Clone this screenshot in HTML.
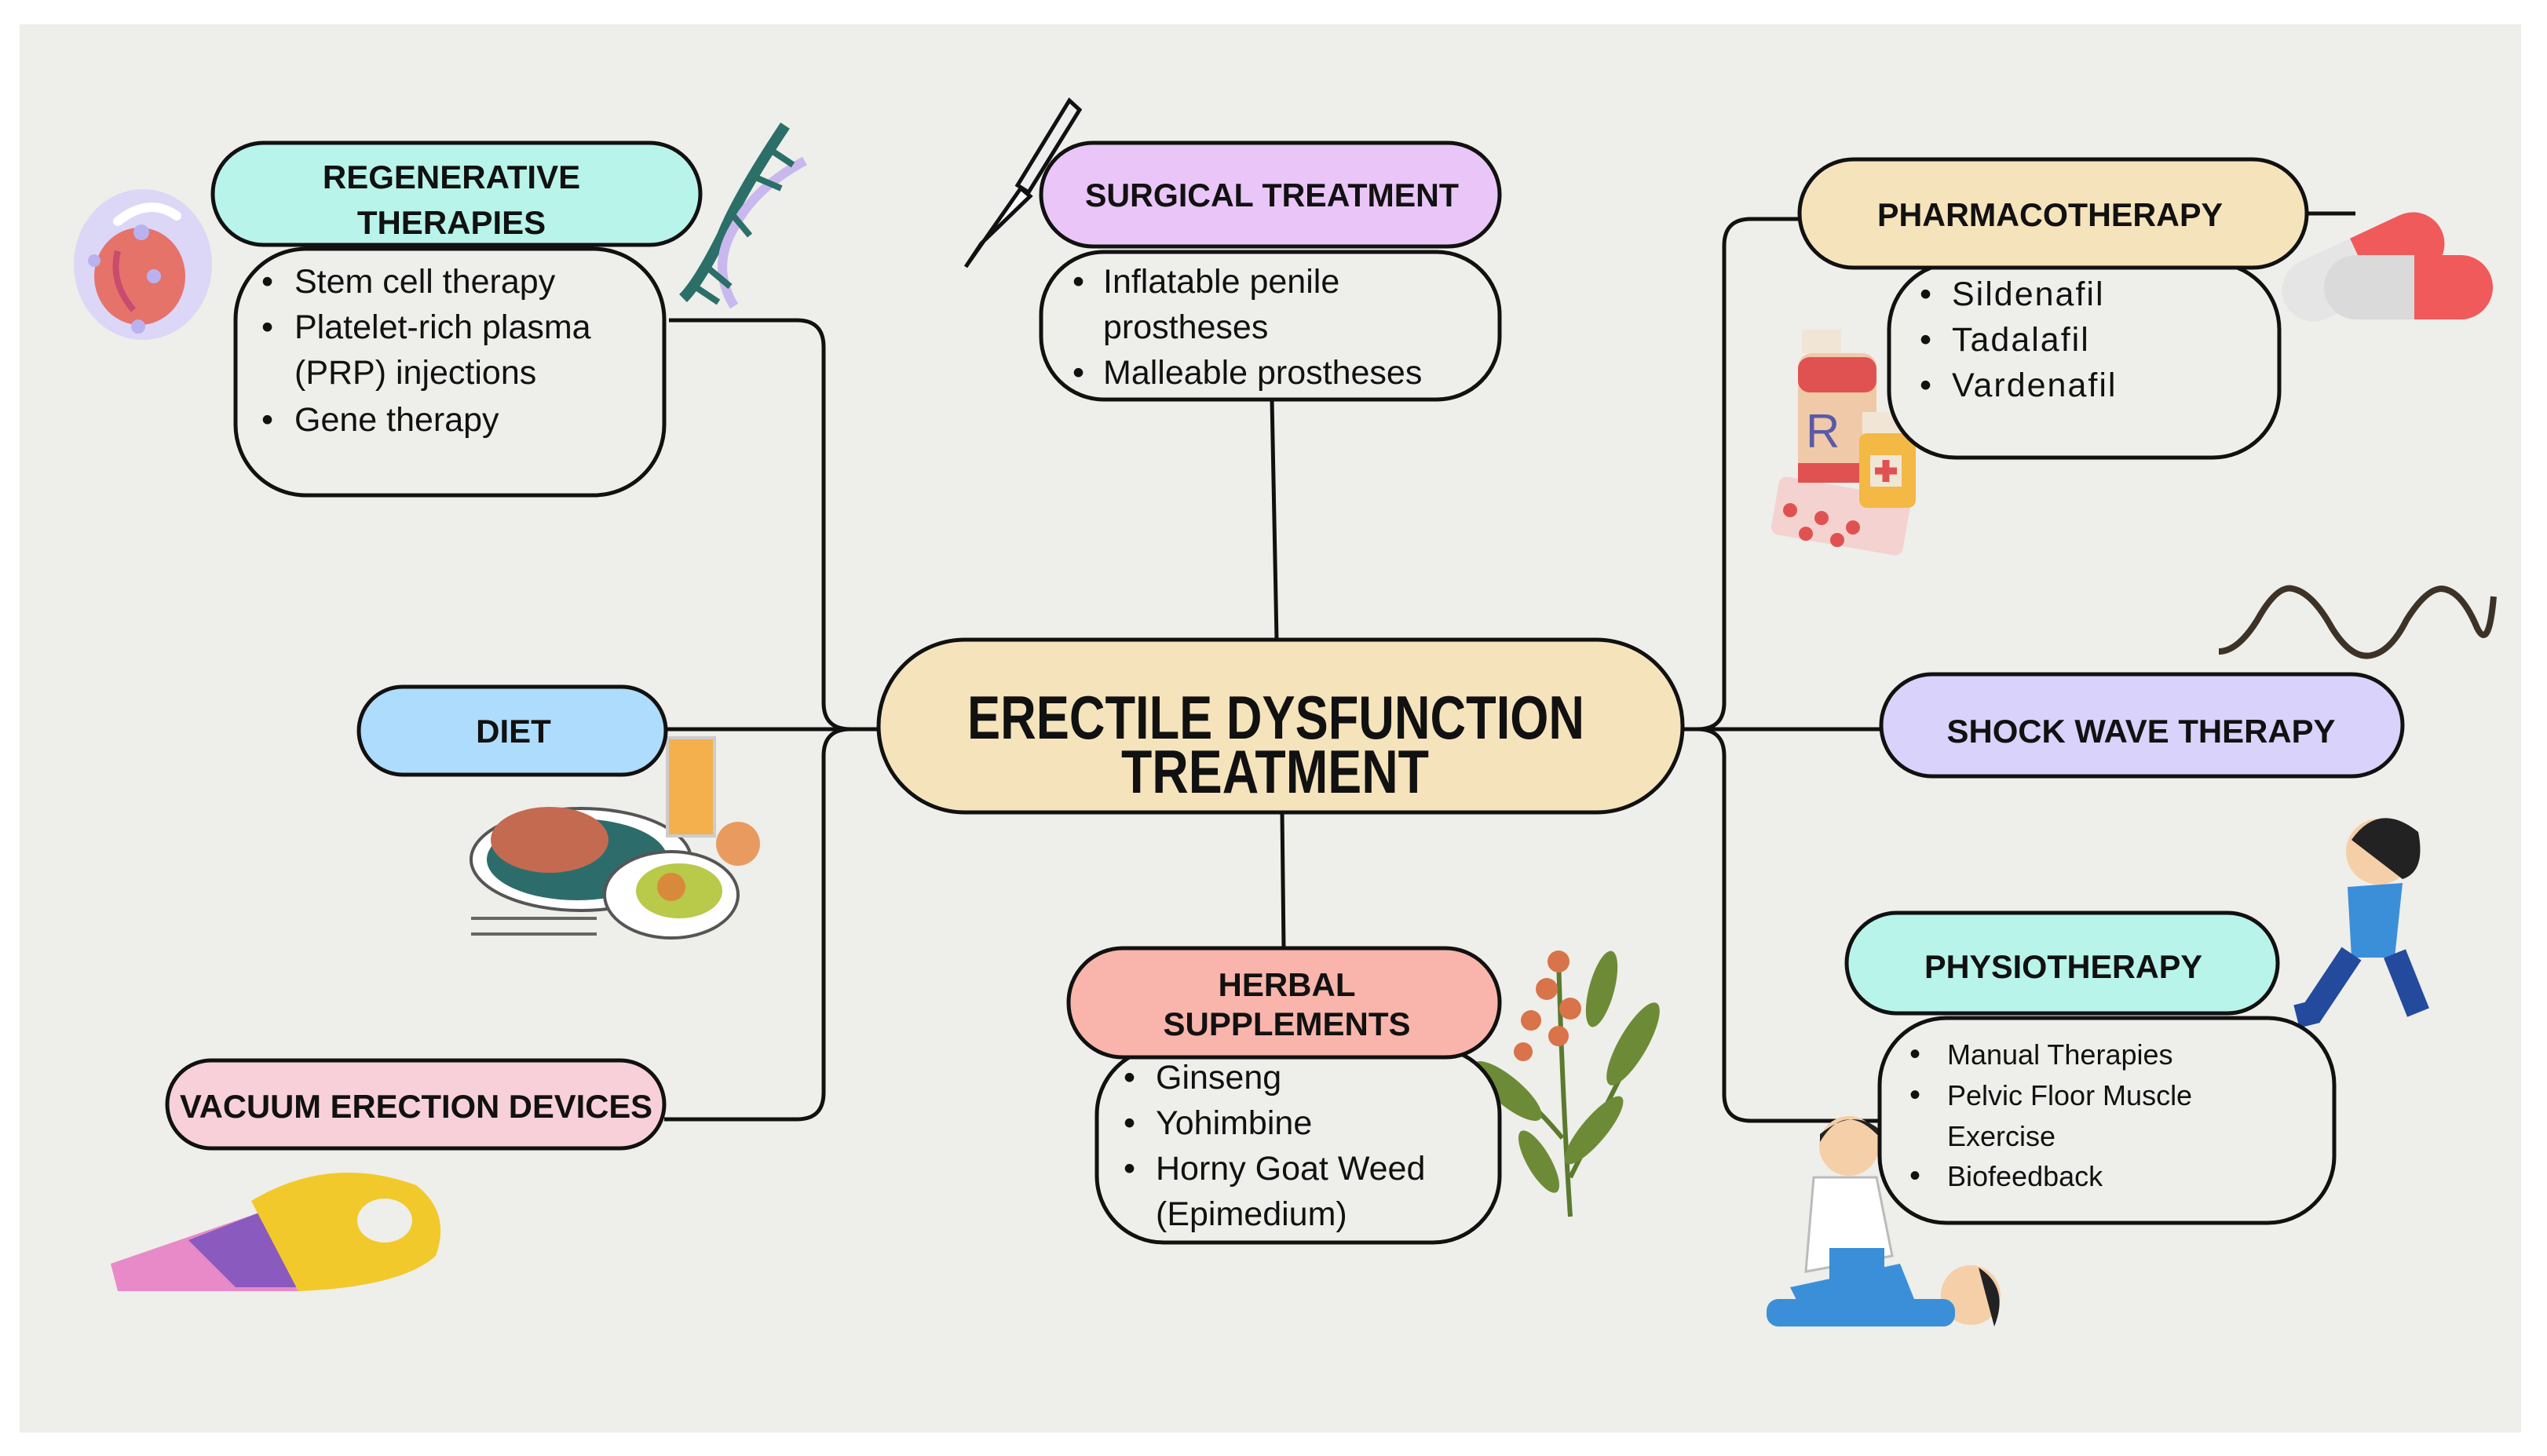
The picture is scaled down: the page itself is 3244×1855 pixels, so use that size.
<!DOCTYPE html>
<html><head><meta charset="utf-8"><style>
html,body{margin:0;padding:0;background:#fff;}
svg{display:block;}
text{font-family:"Liberation Sans",sans-serif;fill:#111;}
.h{font-weight:bold;font-size:42px;text-anchor:middle;}
.b{font-size:43px;}
</style></head><body>
<svg width="3244" height="1855" viewBox="0 0 3244 1855" xmlns="http://www.w3.org/2000/svg">
<rect x="0" y="0" width="3244" height="1855" fill="#fff"/>
<rect x="25" y="31" width="3186" height="1794" fill="#eeeeea"/>

<!-- connectors -->
<g fill="none" stroke="#111" stroke-width="5">
<path d="M852 408 H1015 Q1049 408 1049 442 V895 Q1049 929 1083 929 H1125"/>
<path d="M848 929 H1125"/>
<path d="M1125 929 H1083 Q1049 929 1049 963 V1392 Q1049 1426 1015 1426 H846"/>
<path d="M2292 279 H2230 Q2196 279 2196 313 V895 Q2196 929 2162 929 H2140"/>
<path d="M2140 929 H2396"/>
<path d="M2162 929 Q2196 929 2196 963 V1394 Q2196 1428 2230 1428 H2396"/>
<path d="M1620 509 L1626 815"/>
<path d="M1633 1035 L1635 1208"/>
<path d="M2938 272 H3000"/>
</g>

<!-- decorations -->
<!-- cell -->
<ellipse cx="182" cy="337" rx="88" ry="96" fill="#dcd6f7"/>
<ellipse cx="178" cy="352" rx="58" ry="62" fill="#e5736a"/>
<path d="M150 320 Q140 360 170 395" stroke="#c94b6e" stroke-width="8" fill="none"/>
<path d="M150 282 Q190 250 225 275" stroke="#fff" stroke-width="12" fill="none" stroke-linecap="round"/>
<circle cx="180" cy="296" r="10" fill="#b9b2ef"/><circle cx="196" cy="352" r="9" fill="#b9b2ef"/><circle cx="176" cy="416" r="9" fill="#b9b2ef"/><circle cx="120" cy="332" r="8" fill="#b9b2ef"/>
<!-- DNA -->
<path d="M1000 160 Q940 250 920 300 Q890 360 870 380" stroke="#2b6f68" stroke-width="14" fill="none"/>
<path d="M1025 205 Q960 240 935 290 Q905 340 935 390" stroke="#c9b8ee" stroke-width="12" fill="none"/>
<g stroke="#2b6f68" stroke-width="8"><line x1="980" y1="190" x2="1010" y2="210"/><line x1="960" y1="225" x2="995" y2="240"/><line x1="900" y1="340" x2="930" y2="365"/><line x1="885" y1="365" x2="915" y2="385"/><line x1="930" y1="270" x2="955" y2="300"/></g>
<!-- scalpel -->
<path d="M1362 128 L1375 140 L1310 245 L1296 236 Z" fill="#eee" stroke="#111" stroke-width="5"/>
<path d="M1300 240 L1230 340 L1250 310 L1312 250 Z" fill="#fff" stroke="#111" stroke-width="5"/>
<!-- pills -->
<g transform="rotate(-25 3010 340)"><rect x="2900" y="300" width="220" height="80" rx="40" fill="#e5e5e5"/><path d="M3010 300 H3080 A40 40 0 0 1 3080 380 H3010 Z" fill="#f05a5a"/></g>
<rect x="2960" y="325" width="215" height="82" rx="41" fill="#dadada"/><path d="M3075 325 H3134 A41 41 0 0 1 3134 407 H3075 Z" fill="#f05a5a"/>
<!-- bottles -->
<rect x="2260" y="620" width="170" height="75" rx="10" fill="#f4d2cf" transform="rotate(10 2345 655)"/>
<g fill="#e05252"><circle cx="2280" cy="650" r="9"/><circle cx="2320" cy="660" r="9"/><circle cx="2360" cy="672" r="9"/><circle cx="2300" cy="680" r="9"/><circle cx="2340" cy="688" r="9"/></g>
<rect x="2295" y="420" width="50" height="30" fill="#f1e6d6"/>
<rect x="2290" y="450" width="100" height="165" rx="18" fill="#f0c9a9"/>
<rect x="2290" y="455" width="100" height="45" rx="15" fill="#e05252"/><rect x="2290" y="590" width="100" height="25" fill="#e05252"/>
<text x="2300" y="570" style="font-size:60px;fill:#5a5aa8;">R</text>
<rect x="2372" y="525" width="62" height="30" fill="#f1e6d6"/><rect x="2368" y="552" width="72" height="95" rx="10" fill="#f4b844"/>
<rect x="2382" y="580" width="40" height="40" fill="#f1e6d6"/><path d="M2402 586 V614 M2388 600 H2416" stroke="#e05252" stroke-width="9"/>
<!-- sine -->
<path d="M2826 830 Q2850 830 2875 790 Q2900 745 2920 750 Q2945 755 2970 800 Q2995 840 3020 835 Q3045 830 3065 790 Q3090 750 3110 750 Q3135 752 3155 800 Q3170 830 3176 760" stroke="#3d3226" stroke-width="8" fill="none"/>
<!-- standing person -->
<circle cx="3030" cy="1085" r="42" fill="#f5cfa8"/><path d="M2995 1070 Q3030 1020 3080 1060 Q3090 1110 3060 1120 Z" fill="#222"/>
<path d="M2990 1130 L3060 1125 L3050 1220 L2995 1220 Z" fill="#3b8fd8"/>
<path d="M2995 1215 L2945 1290 L2925 1295 M3050 1215 L3080 1290" stroke="#234a9c" stroke-width="30" fill="none"/>
<!-- physio people -->
<circle cx="2355" cy="1460" r="38" fill="#f5cfa8"/><path d="M2318 1455 Q2350 1400 2395 1450 L2395 1440 Q2360 1410 2318 1445 Z" fill="#222"/>
<path d="M2310 1500 L2390 1500 L2410 1600 L2300 1620 Z" fill="#fff" stroke="#bbb" stroke-width="3"/>
<path d="M2280 1640 L2420 1610 L2440 1660 L2300 1680 Z" fill="#3b8fd8"/>
<rect x="2330" y="1590" width="70" height="40" fill="#3b8fd8"/>
<circle cx="2510" cy="1650" r="38" fill="#f5cfa8"/><path d="M2520 1615 Q2560 1640 2540 1690 Z" fill="#222"/>
<rect x="2250" y="1655" width="240" height="35" rx="15" fill="#3b8fd8"/>
<!-- food -->
<ellipse cx="740" cy="1095" rx="140" ry="65" fill="#fff" stroke="#555" stroke-width="4"/>
<ellipse cx="735" cy="1095" rx="115" ry="52" fill="#2c6d6b"/>
<ellipse cx="700" cy="1070" rx="75" ry="42" fill="#c46a50"/>
<ellipse cx="855" cy="1140" rx="85" ry="55" fill="#fff" stroke="#555" stroke-width="4"/>
<ellipse cx="865" cy="1135" rx="55" ry="35" fill="#b9c94a"/><circle cx="855" cy="1130" r="18" fill="#d88a3a"/>
<rect x="850" y="940" width="60" height="125" fill="#f3b04c" stroke="#ccc" stroke-width="4"/>
<circle cx="940" cy="1075" r="28" fill="#e89a5f"/>
<path d="M600 1170 H760 M600 1190 H760" stroke="#666" stroke-width="4"/>
<!-- plant -->
<path d="M2000 1550 Q1990 1400 1985 1220 M2000 1500 Q2050 1400 2100 1300 M1990 1450 Q1940 1390 1900 1370" stroke="#5b7a2e" stroke-width="6" fill="none"/>
<g fill="#6d8b36"><ellipse cx="2080" cy="1330" rx="18" ry="60" transform="rotate(30 2080 1330)"/><ellipse cx="1920" cy="1390" rx="18" ry="55" transform="rotate(-50 1920 1390)"/><ellipse cx="2040" cy="1260" rx="16" ry="50" transform="rotate(15 2040 1260)"/><ellipse cx="2030" cy="1440" rx="16" ry="55" transform="rotate(40 2030 1440)"/><ellipse cx="1960" cy="1480" rx="15" ry="45" transform="rotate(-30 1960 1480)"/></g>
<g fill="#d8734a"><circle cx="1985" cy="1225" r="14"/><circle cx="1970" cy="1260" r="14"/><circle cx="2000" cy="1285" r="14"/><circle cx="1950" cy="1300" r="13"/><circle cx="1985" cy="1320" r="13"/><circle cx="1940" cy="1340" r="12"/></g>
<!-- vacuum -->
<path d="M141 1610 L330 1545 L380 1645 L150 1645 Z" fill="#e88ac8"/>
<path d="M240 1580 L330 1545 L380 1640 L300 1640 Z" fill="#8a5abf"/>
<path d="M320 1530 Q420 1470 530 1510 Q575 1545 555 1600 Q510 1640 380 1645 Z" fill="#f2c92a"/>
<ellipse cx="490" cy="1555" rx="35" ry="28" fill="#eeeeea"/>

<!-- boxes -->
<g stroke="#111" stroke-width="5">
<rect x="1119" y="815" width="1024" height="220" rx="110" fill="#f5e3bb"/>
<rect x="300" y="317" width="546" height="314" rx="90" fill="#eeeeea"/>
<rect x="271" y="182" width="621" height="130" rx="65" fill="#b8f4ea"/>
<rect x="1326" y="321" width="584" height="188" rx="80" fill="#eeeeea"/>
<rect x="1326" y="182" width="584" height="132" rx="66" fill="#e9c6f7"/>
<rect x="2406" y="335" width="497" height="248" rx="85" fill="#eeeeea"/>
<rect x="2292" y="203" width="646" height="138" rx="69" fill="#f5e3bb"/>
<rect x="457" y="875" width="391" height="112" rx="56" fill="#aedcfd"/>
<rect x="2396" y="859" width="664" height="130" rx="65" fill="#d9d2fb"/>
<rect x="2394" y="1297" width="579" height="261" rx="85" fill="#eeeeea"/>
<rect x="2352" y="1163" width="549" height="128" rx="64" fill="#b8f4ea"/>
<rect x="213" y="1351" width="633" height="112" rx="56" fill="#f8d0da"/>
<rect x="1397" y="1335" width="513" height="248" rx="85" fill="#eeeeea"/>
<rect x="1361" y="1208" width="549" height="139" rx="69" fill="#f9b5ab"/>
</g>

<!-- titles -->
<text x="1625" y="941" style="font-weight:bold;font-size:78px;text-anchor:middle;" textLength="786" lengthAdjust="spacingAndGlyphs">ERECTILE DYSFUNCTION</text>
<text x="1624" y="1010" style="font-weight:bold;font-size:78px;text-anchor:middle;" textLength="392" lengthAdjust="spacingAndGlyphs">TREATMENT</text>

<text class="h" x="575" y="240">REGENERATIVE</text>
<text class="h" x="575" y="298">THERAPIES</text>
<text class="h" x="1620" y="263" textLength="476" lengthAdjust="spacingAndGlyphs">SURGICAL TREATMENT</text>
<text class="h" x="2611" y="288" textLength="440" lengthAdjust="spacingAndGlyphs">PHARMACOTHERAPY</text>
<text class="h" x="654" y="946">DIET</text>
<text class="h" x="2727" y="946" textLength="495" lengthAdjust="spacingAndGlyphs">SHOCK WAVE THERAPY</text>
<text class="h" x="2628" y="1246" textLength="354" lengthAdjust="spacingAndGlyphs">PHYSIOTHERAPY</text>
<text class="h" x="530" y="1424" textLength="602" lengthAdjust="spacingAndGlyphs">VACUUM ERECTION DEVICES</text>
<text class="h" x="1639" y="1269">HERBAL</text>
<text class="h" x="1639" y="1319">SUPPLEMENTS</text>

<!-- bullets -->
<g class="b">
<text class="b" x="333" y="373">•</text><text class="b" x="375" y="373">Stem cell therapy</text>
<text class="b" x="333" y="431">•</text><text class="b" x="375" y="431">Platelet-rich plasma</text>
<text class="b" x="375" y="489">(PRP) injections</text>
<text class="b" x="333" y="549">•</text><text class="b" x="375" y="549">Gene therapy</text>

<text class="b" x="1366" y="373">•</text><text class="b" x="1405" y="373">Inflatable penile</text>
<text class="b" x="1405" y="431">prostheses</text>
<text class="b" x="1366" y="489">•</text><text class="b" x="1405" y="489">Malleable prostheses</text>

<text class="b" x="2445" y="389">•</text><text class="b" x="2486" y="389" style="letter-spacing:2px">Sildenafil</text>
<text class="b" x="2445" y="447">•</text><text class="b" x="2486" y="447" style="letter-spacing:2px">Tadalafil</text>
<text class="b" x="2445" y="505">•</text><text class="b" x="2486" y="505" style="letter-spacing:2px">Vardenafil</text>

<text class="b" x="1431" y="1387">•</text><text class="b" x="1472" y="1387">Ginseng</text>
<text class="b" x="1431" y="1445">•</text><text class="b" x="1472" y="1445">Yohimbine</text>
<text class="b" x="1431" y="1503">•</text><text class="b" x="1472" y="1503">Horny Goat Weed</text>
<text class="b" x="1472" y="1561">(Epimedium)</text>
</g>
<g style="font-size:36px">
<text x="2432" y="1356" style="font-size:40px">•</text><text x="2480" y="1356" style="font-size:36px">Manual Therapies</text>
<text x="2432" y="1408" style="font-size:40px">•</text><text x="2480" y="1408" style="font-size:36px">Pelvic Floor Muscle</text>
<text x="2480" y="1460" style="font-size:36px">Exercise</text>
<text x="2432" y="1511" style="font-size:40px">•</text><text x="2480" y="1511" style="font-size:36px">Biofeedback</text>
</g>
</svg>
</body></html>
